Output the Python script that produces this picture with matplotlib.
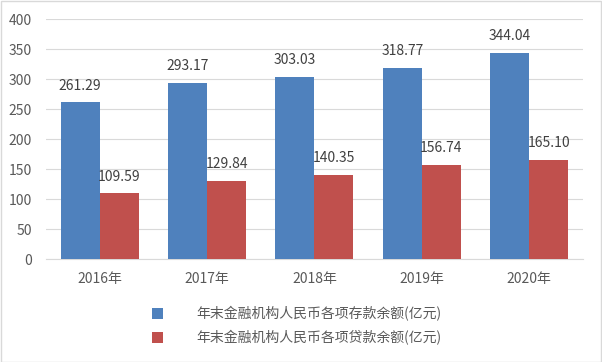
import matplotlib
matplotlib.use("Agg")
import matplotlib.pyplot as plt
import numpy as np

plt.rcParams['font.family'] = ['Noto Sans CJK SC', 'DejaVu Sans']

years = ['2016年', '2017年', '2018年', '2019年', '2020年']
deposits = [261.29, 293.17, 303.03, 318.77, 344.04]
loans = [109.59, 129.84, 140.35, 156.74, 165.10]
series_names = ['年末金融机构人民币各项存款余额(亿元)', '年末金融机构人民币各项贷款余额(亿元)']

blue = '#4f81bd'
red = '#c0504d'
grey = '#595959'

fig = plt.figure(figsize=(6.02, 3.62), dpi=100)
ax = fig.add_axes([0.0764, 0.2845, 0.892, 0.663])

x = np.arange(len(years))
w = 0.363
b1 = ax.bar(x - w / 2, deposits, w, color=blue, label=series_names[0], zorder=3)
b2 = ax.bar(x + w / 2, loans, w, color=red, label=series_names[1], zorder=3)

for bars, vals in ((b1, deposits), (b2, loans)):
    for rect, v in zip(bars, vals):
        ax.annotate(f'{v:.2f}', (rect.get_x() + rect.get_width() / 2, rect.get_height()),
                    xytext=(0, 7), textcoords='offset points', ha='center', va='bottom',
                    fontsize=10, color='#404040')

ax.set_xlim(-0.5, len(years) - 0.5)
ax.set_ylim(0, 400)
ax.set_yticks(range(0, 401, 50))
ax.set_xticks(x)
ax.set_xticklabels(years)
ax.tick_params(axis='x', length=0, pad=9, labelsize=10, labelcolor=grey)
ax.tick_params(axis='y', length=0, labelsize=10, labelcolor=grey, pad=10)
ax.yaxis.grid(True, color='#d9d9d9', linewidth=0.8, zorder=0)
for s in ('top', 'right', 'left'):
    ax.spines[s].set_visible(False)
ax.spines['bottom'].set_color('#d9d9d9')

fig.legend(handles=[b1, b2], labels=series_names, loc='upper left',
           bbox_to_anchor=(0.243, 0.17), frameon=False, fontsize=10,
           handlelength=0.8, handleheight=0.8, handletextpad=2.4,
           labelspacing=0.68, labelcolor=grey, borderaxespad=0)

fig.patches.append(plt.Rectangle((0.001, 0.001), 0.997, 0.997, transform=fig.transFigure,
                                 fill=False, edgecolor='#d9d9d9', linewidth=1))

fig.savefig('out.png', dpi=100)
